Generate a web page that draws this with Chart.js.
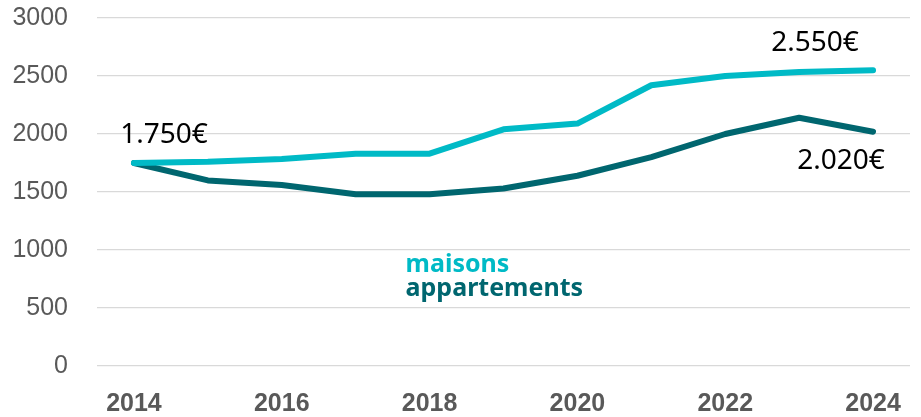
<!DOCTYPE html>
<html><head><meta charset="utf-8">
<script src="https://cdn.jsdelivr.net/npm/chart.js@4"></script>
<style>html,body{margin:0;padding:0;background:#fff}#w{width:921px;height:417px}</style>
</head><body><div id="w"><canvas id="c"></canvas></div>
<script>
const years = ['2014','2015','2016','2017','2018','2019','2020','2021','2022','2023','2024'];
const maisons = [1750,1760,1785,1830,1830,2040,2090,2420,2500,2535,2550];
const appartements = [1750,1600,1560,1480,1480,1530,1640,1800,2000,2140,2020];
const yTicks = [0,500,1000,1500,2000,2500,3000];
const seriesNames = ['maisons','appartements'];
const valueLabels = [
  {ds:0, idx:0, text:'1.750€', dx:30, dy:-28},
  {ds:0, idx:10, text:'2.550€', dx:-58, dy:-27},
  {ds:1, idx:10, text:'2.020€', dx:-32, dy:29}
];
const C1 = '#00BAC6', C2 = '#00666F';

const annot = {
  id:'annot',
  afterDatasetsDraw(chart){
    const ctx = chart.ctx;
    ctx.save();
    ctx.textAlign='center'; ctx.textBaseline='middle';
    ctx.fillStyle='#000';
    ctx.font = '28px "Noto Sans", sans-serif';
    valueLabels.forEach(l=>{
      const p = chart.getDatasetMeta(l.ds).data[l.idx];
      ctx.fillText(l.text, p.x + l.dx, p.y + l.dy);
    });
    const xs = chart.scales.x, ys = chart.scales.y;
    const lx = xs.getPixelForValue(4) - 24;
    ctx.textAlign='left';
    ctx.font = 'bold 25px "Noto Sans", sans-serif';
    ctx.fillStyle = C1;
    ctx.fillText(seriesNames[0], lx, ys.getPixelForValue(870));
    ctx.fillStyle = C2;
    ctx.fillText(seriesNames[1], lx, ys.getPixelForValue(665));
    ctx.restore();
  }
};

new Chart(document.getElementById('c'), {
  type:'line',
  data:{labels:years, datasets:[
    {label:seriesNames[0], data:maisons, borderColor:C1, borderWidth:6, pointRadius:0, tension:0, borderCapStyle:'round', borderJoinStyle:'round'},
    {label:seriesNames[1], data:appartements, borderColor:C2, borderWidth:6, pointRadius:0, tension:0, borderCapStyle:'round', borderJoinStyle:'round'}
  ]},
  options:{
    responsive:true, maintainAspectRatio:false, animation:false,
    layout:{padding:{top:18,right:11,left:0,bottom:0}},
    plugins:{legend:{display:false}, tooltip:{enabled:false}},
    scales:{
      x:{
        offset:true,
        grid:{display:false, drawTicks:false},
        border:{display:false},
        ticks:{autoSkip:false, maxRotation:0, padding:23, color:'#595959',
          font:{family:'"Liberation Sans", Arial, sans-serif', size:25, weight:'bold'},
          callback:(v,i)=> i%2===0 ? years[i] : ''},
        afterFit(s){ s.height = 51; s.paddingLeft = 0; s.paddingRight = 0; }
      },
      y:{
        min:0, max:3000,
        afterBuildTicks(s){ s.ticks = yTicks.map(v=>({value:v})); },
        grid:{color:'#d9d9d9', lineWidth:1.2, drawTicks:false},
        border:{display:false},
        ticks:{padding:29, color:'#595959', callback:v=>String(v),
          font:{family:'"Liberation Sans", Arial, sans-serif', size:25}},
        afterFit(s){ s.width = 97; s.paddingTop = 0; s.paddingBottom = 0; }
      }
    }
  },
  plugins:[annot]
});
</script></body></html>
